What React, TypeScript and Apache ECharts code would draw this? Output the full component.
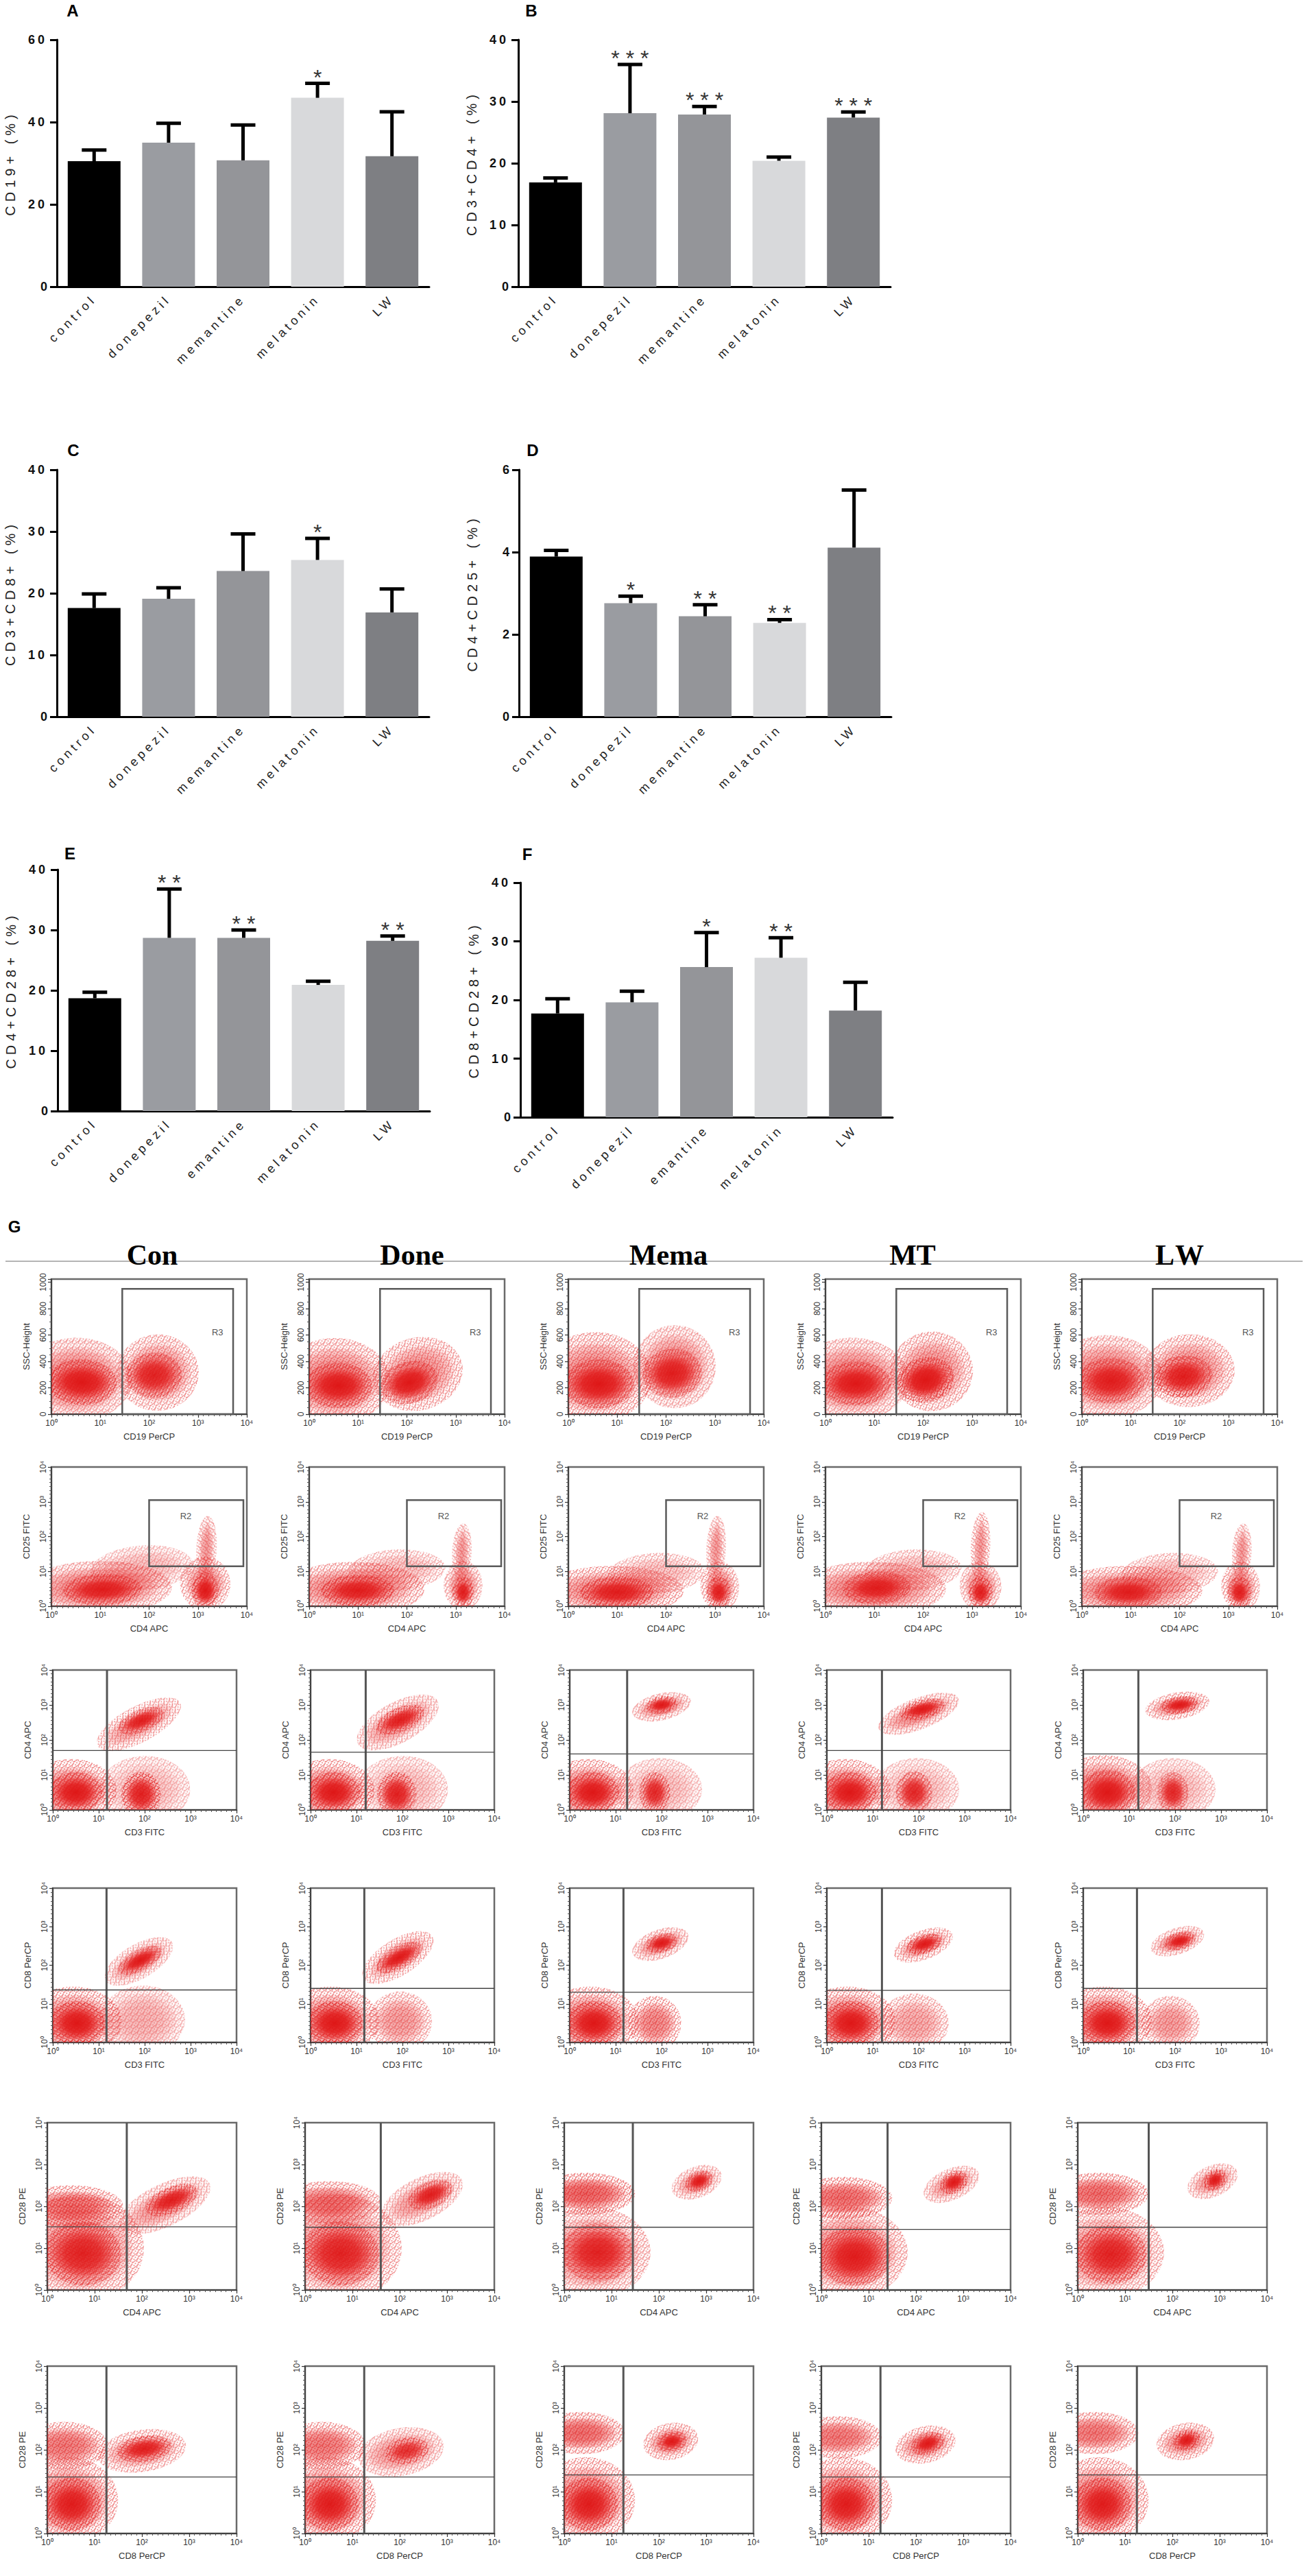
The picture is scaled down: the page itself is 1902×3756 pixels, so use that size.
import React, { useEffect, useRef } from "react";
import * as echarts from "echarts";

// ---------------- Bar panels (A-F) ----------------
const groups = ["control", "donepezil", "memantine", "melatonin", "LW"];
const groupsEF = ["control", "donepezil", "emantine", "melatonin", "LW"];

const cd19Mean = [30.5, 35.0, 30.7, 45.9, 31.7];
const cd19Sem = [2.7, 4.7, 8.6, 3.5, 10.8];
const cd19Stars = ["", "", "", "*", ""];

const cd3cd4Mean = [16.9, 28.1, 27.9, 20.4, 27.4];
const cd3cd4Sem = [0.7, 7.9, 1.3, 0.6, 0.9];
const cd3cd4Stars = ["", "* * *", "* * *", "", "* * *"];

const cd3cd8Mean = [17.6, 19.1, 23.6, 25.4, 16.9];
const cd3cd8Sem = [2.3, 1.8, 6.0, 3.5, 3.8];
const cd3cd8Stars = ["", "", "", "*", ""];

const cd4cd25Mean = [3.89, 2.76, 2.44, 2.28, 4.11];
const cd4cd25Sem = [0.15, 0.17, 0.28, 0.08, 1.4];
const cd4cd25Stars = ["", "*", "* *", "* *", ""];

const cd4cd28Mean = [18.7, 28.7, 28.7, 20.9, 28.2];
const cd4cd28Sem = [1.0, 8.1, 1.3, 0.6, 0.8];
const cd4cd28Stars = ["", "* *", "* *", "", "* *"];

const cd8cd28Mean = [17.7, 19.6, 25.6, 27.2, 18.2];
const cd8cd28Sem = [2.5, 1.9, 5.9, 3.4, 4.8];
const cd8cd28Stars = ["", "", "*", "* *", ""];

const barColors = ["#000000", "#9a9ca1", "#949599", "#d8d9db", "#7e7f83"];

// ---------------- Flow cytometry panels (G) ----------------
const groupHeaders = ["Con", "Done", "Mema", "MT", "LW"];
const xAxisNames = ["CD19 PerCP", "CD4 APC", "CD3 FITC", "CD3 FITC", "CD4 APC", "CD8 PerCP"];
const yAxisNames = ["SSC-Height", "CD25 FITC", "CD4 APC", "CD8 PerCP", "CD28 PE", "CD28 PE"];
const logTicks = ["10⁰", "10¹", "10²", "10³", "10⁴"];
const sscTicks = ["0", "200", "400", "600", "800", "1000"];

// cell clouds: [x1, y1, x2, y2, half-thickness (y units), density]; x in log10 decades
const row1Clusters = [
  [[-0.4, 270, 1.45, 260, 230, 0.45], [0.05, 250, 1.2, 235, 120, 0.9], [1.5, 300, 2.85, 330, 210, 0.4], [1.65, 290, 2.55, 300, 120, 0.8]],
  [[-0.4, 250, 1.45, 250, 240, 0.45], [0.05, 220, 1.15, 215, 120, 0.9], [1.5, 230, 2.95, 380, 200, 0.4], [1.6, 190, 2.5, 290, 110, 0.9]],
  [[-0.4, 280, 1.5, 280, 250, 0.45], [0.05, 230, 1.2, 230, 130, 0.9], [1.5, 340, 2.85, 380, 230, 0.4], [1.65, 290, 2.6, 330, 130, 0.85]],
  [[-0.4, 270, 1.5, 260, 230, 0.45], [0.05, 230, 1.2, 235, 115, 0.9], [1.5, 290, 2.85, 360, 220, 0.4], [1.6, 220, 2.5, 300, 120, 0.95]],
  [[-0.4, 290, 1.45, 280, 230, 0.45], [0.05, 250, 1.15, 255, 120, 0.85], [1.45, 320, 2.95, 340, 200, 0.4], [1.6, 270, 2.55, 300, 110, 0.85]],
];
const row2Clusters = [
  [[-0.3, 0.5, 2.2, 0.55, 0.55, 0.45], [0.4, 0.45, 1.7, 0.5, 0.3, 0.85], [1.0, 1.0, 2.7, 1.2, 0.45, 0.2], [2.75, 0.6, 3.55, 0.7, 0.55, 0.4], [2.95, 0.45, 3.35, 0.45, 0.35, 0.9], [3.15, 0.9, 3.2, 2.4, 0.18, 0.35]],
  [[-0.3, 0.5, 2.1, 0.5, 0.55, 0.45], [0.4, 0.45, 1.6, 0.45, 0.3, 0.85], [1.0, 1.0, 2.6, 1.1, 0.4, 0.2], [2.85, 0.6, 3.45, 0.6, 0.5, 0.4], [3.0, 0.4, 3.3, 0.4, 0.3, 0.85], [3.1, 0.9, 3.15, 2.2, 0.17, 0.35]],
  [[-0.3, 0.45, 2.1, 0.45, 0.5, 0.45], [0.4, 0.4, 1.6, 0.4, 0.3, 0.85], [1.0, 0.9, 2.6, 1.0, 0.4, 0.2], [2.8, 0.55, 3.4, 0.6, 0.5, 0.4], [2.9, 0.4, 3.25, 0.4, 0.3, 0.85], [3.0, 0.9, 3.05, 2.4, 0.17, 0.35]],
  [[-0.3, 0.5, 2.2, 0.5, 0.55, 0.45], [0.5, 0.5, 1.6, 0.55, 0.32, 0.85], [1.0, 1.0, 2.6, 1.1, 0.4, 0.2], [2.85, 0.55, 3.5, 0.6, 0.5, 0.4], [3.0, 0.4, 3.35, 0.4, 0.3, 0.85], [3.15, 0.9, 3.2, 2.5, 0.17, 0.35]],
  [[-0.3, 0.45, 2.2, 0.45, 0.5, 0.45], [0.4, 0.4, 1.5, 0.4, 0.3, 0.85], [1.0, 0.9, 2.6, 1.0, 0.4, 0.2], [2.95, 0.55, 3.55, 0.6, 0.5, 0.4], [3.05, 0.4, 3.4, 0.4, 0.3, 0.85], [3.25, 0.9, 3.3, 2.2, 0.17, 0.35]],
];
const row3Clusters = [
  [[-0.4, 0.55, 1.2, 0.55, 0.65, 0.45], [0.05, 0.5, 0.95, 0.5, 0.4, 0.9], [1.2, 0.55, 2.8, 0.6, 0.7, 0.2], [1.6, 0.45, 2.25, 0.45, 0.45, 0.85], [1.15, 1.95, 2.6, 2.95, 0.35, 0.35], [1.55, 2.35, 2.3, 2.75, 0.2, 0.85]],
  [[-0.4, 0.55, 1.2, 0.55, 0.65, 0.45], [0.05, 0.5, 0.95, 0.5, 0.4, 0.9], [1.2, 0.55, 2.8, 0.6, 0.7, 0.2], [1.55, 0.45, 2.2, 0.45, 0.45, 0.85], [1.2, 2.0, 2.6, 3.0, 0.4, 0.35], [1.55, 2.35, 2.35, 2.8, 0.22, 0.85]],
  [[-0.4, 0.55, 1.2, 0.55, 0.65, 0.45], [0.05, 0.5, 0.95, 0.5, 0.4, 0.9], [1.2, 0.55, 2.7, 0.6, 0.65, 0.2], [1.6, 0.5, 2.1, 0.5, 0.4, 0.8], [1.5, 2.8, 2.5, 3.1, 0.25, 0.4], [1.75, 2.95, 2.25, 3.05, 0.15, 0.9]],
  [[-0.4, 0.55, 1.2, 0.55, 0.65, 0.45], [0.05, 0.5, 0.95, 0.5, 0.4, 0.9], [1.2, 0.55, 2.7, 0.6, 0.65, 0.2], [1.6, 0.5, 2.2, 0.5, 0.42, 0.8], [1.3, 2.4, 2.7, 3.1, 0.3, 0.4], [1.7, 2.75, 2.45, 3.0, 0.17, 0.9]],
  [[-0.4, 0.6, 1.3, 0.6, 0.7, 0.45], [0.05, 0.5, 1.0, 0.5, 0.45, 0.9], [1.2, 0.55, 2.7, 0.6, 0.65, 0.2], [1.7, 0.5, 2.2, 0.5, 0.4, 0.8], [1.5, 2.85, 2.6, 3.1, 0.25, 0.4], [1.8, 2.95, 2.4, 3.05, 0.15, 0.9]],
];
const row4Clusters = [
  [[-0.4, 0.55, 1.3, 0.55, 0.65, 0.45], [0.05, 0.5, 1.0, 0.5, 0.4, 0.9], [1.2, 0.55, 2.7, 0.6, 0.65, 0.25], [1.3, 1.7, 2.45, 2.5, 0.3, 0.35], [1.55, 1.9, 2.25, 2.35, 0.17, 0.9]],
  [[-0.4, 0.55, 1.3, 0.55, 0.65, 0.45], [0.05, 0.5, 1.0, 0.5, 0.4, 0.9], [1.4, 0.55, 2.5, 0.55, 0.55, 0.35], [1.3, 1.75, 2.5, 2.65, 0.32, 0.35], [1.55, 1.95, 2.3, 2.45, 0.18, 0.9]],
  [[-0.4, 0.55, 1.3, 0.55, 0.65, 0.45], [0.05, 0.5, 1.0, 0.5, 0.4, 0.9], [1.4, 0.5, 2.3, 0.5, 0.5, 0.45], [1.5, 2.35, 2.45, 2.75, 0.25, 0.4], [1.75, 2.5, 2.25, 2.65, 0.15, 0.9]],
  [[-0.4, 0.55, 1.3, 0.55, 0.65, 0.45], [0.05, 0.5, 1.0, 0.5, 0.4, 0.9], [1.3, 0.5, 2.5, 0.5, 0.55, 0.3], [1.6, 2.3, 2.6, 2.75, 0.25, 0.4], [1.85, 2.45, 2.4, 2.65, 0.15, 0.9]],
  [[-0.4, 0.55, 1.3, 0.55, 0.65, 0.45], [0.05, 0.5, 1.0, 0.5, 0.4, 0.9], [1.4, 0.5, 2.4, 0.5, 0.5, 0.35], [1.6, 2.45, 2.5, 2.8, 0.22, 0.4], [1.85, 2.55, 2.35, 2.7, 0.14, 0.9]],
];
const row5Clusters = [
  [[-0.4, 1.0, 1.8, 1.0, 0.95, 0.4], [0.1, 0.9, 1.4, 0.85, 0.55, 0.8], [-0.4, 2.0, 1.4, 2.0, 0.35, 0.5], [1.7, 1.6, 3.25, 2.45, 0.35, 0.35], [2.2, 1.95, 3.05, 2.35, 0.2, 0.85]],
  [[-0.4, 1.0, 1.8, 1.0, 0.95, 0.4], [0.1, 0.9, 1.4, 0.85, 0.55, 0.8], [-0.4, 2.1, 1.4, 2.1, 0.35, 0.5], [1.8, 1.8, 3.15, 2.55, 0.35, 0.35], [2.3, 2.1, 3.0, 2.45, 0.2, 0.85]],
  [[-0.4, 0.9, 1.6, 0.9, 0.8, 0.4], [0.1, 0.9, 1.3, 0.9, 0.5, 0.8], [-0.4, 2.3, 1.3, 2.3, 0.35, 0.6], [2.4, 2.4, 3.2, 2.75, 0.25, 0.35], [2.65, 2.5, 3.05, 2.7, 0.15, 0.9]],
  [[-0.4, 0.9, 1.6, 0.9, 0.8, 0.45], [0.1, 0.8, 1.3, 0.8, 0.5, 0.85], [-0.4, 2.2, 1.3, 2.2, 0.35, 0.55], [2.3, 2.3, 3.2, 2.75, 0.25, 0.35], [2.6, 2.45, 3.0, 2.7, 0.16, 0.9]],
  [[-0.4, 0.9, 1.6, 0.9, 0.8, 0.4], [0.1, 0.85, 1.3, 0.85, 0.5, 0.8], [-0.4, 2.3, 1.3, 2.3, 0.35, 0.55], [2.45, 2.4, 3.25, 2.8, 0.25, 0.35], [2.75, 2.5, 3.05, 2.75, 0.15, 0.9]],
];
const row6Clusters = [
  [[-0.4, 0.8, 1.3, 0.8, 0.75, 0.45], [0.05, 0.7, 1.0, 0.7, 0.45, 0.85], [-0.4, 2.1, 1.1, 2.1, 0.4, 0.5], [1.25, 1.85, 2.75, 2.1, 0.35, 0.35], [1.6, 1.95, 2.5, 2.1, 0.2, 0.85]],
  [[-0.4, 0.8, 1.3, 0.8, 0.75, 0.45], [0.05, 0.7, 1.0, 0.7, 0.45, 0.85], [-0.4, 2.1, 1.1, 2.1, 0.4, 0.5], [1.3, 1.8, 2.75, 2.1, 0.4, 0.35], [1.8, 1.9, 2.5, 2.05, 0.2, 0.7]],
  [[-0.4, 0.8, 1.3, 0.8, 0.75, 0.45], [0.05, 0.7, 1.0, 0.7, 0.45, 0.85], [-0.4, 2.4, 1.1, 2.4, 0.35, 0.55], [1.8, 2.1, 2.7, 2.3, 0.3, 0.4], [2.05, 2.15, 2.5, 2.25, 0.15, 0.9]],
  [[-0.4, 0.8, 1.3, 0.8, 0.75, 0.45], [0.05, 0.7, 1.0, 0.7, 0.45, 0.85], [-0.4, 2.3, 1.1, 2.3, 0.35, 0.5], [1.7, 2.0, 2.7, 2.25, 0.3, 0.4], [2.0, 2.05, 2.5, 2.25, 0.16, 0.9]],
  [[-0.4, 0.8, 1.3, 0.8, 0.75, 0.45], [0.05, 0.7, 1.0, 0.7, 0.45, 0.85], [-0.4, 2.4, 1.1, 2.4, 0.35, 0.5], [1.8, 2.1, 2.75, 2.3, 0.3, 0.4], [2.1, 2.15, 2.5, 2.3, 0.15, 0.9]],
];

// gates: [xMin, yMin, xMax, yMax]
const r3Gate = [1.45, 0, 3.72, 950];
const r3LabelPos = [3.4, 620];
const r2Gate = [2.0, 1.15, 3.93, 3.05];
const r2LabelPos = [2.75, 2.6];
// quadrant cut points: [x, y] per column
const row3Quad = [[1.18, 1.7], [1.2, 1.65], [1.25, 1.6], [1.2, 1.7], [1.2, 1.6]];
const row4Quad = [[1.17, 1.36], [1.17, 1.4], [1.17, 1.3], [1.2, 1.35], [1.17, 1.4]];
const row5Quad = [[1.68, 1.51], [1.6, 1.5], [1.45, 1.5], [1.4, 1.45], [1.5, 1.5]];
const row6Quad = [[1.25, 1.35], [1.25, 1.35], [1.25, 1.4], [1.25, 1.35], [1.25, 1.4]];

// ---------------- layout / style ----------------
const SANS = "'Liberation Sans', Arial, Helvetica, sans-serif";
const barLayout = [
  { letter: "A", grid: { left: 83, top: 58, width: 543, height: 360 }, lp: [106, 15] },
  { letter: "B", grid: { left: 756, top: 58, width: 543, height: 360 }, lp: [775, 15] },
  { letter: "C", grid: { left: 83, top: 685, width: 543, height: 360 }, lp: [107, 656] },
  { letter: "D", grid: { left: 757, top: 685, width: 543, height: 360 }, lp: [777, 656] },
  { letter: "E", grid: { left: 84, top: 1268, width: 543, height: 352 }, lp: [102, 1244] },
  { letter: "F", grid: { left: 759, top: 1287, width: 543, height: 342 }, lp: [769, 1245] },
];
const colLefts = [75, 451, 829, 1204, 1578];
const colCenters = [222, 601, 975, 1331, 1723];
const rowTops = [1865, 2139, 2435, 2753, 3095, 3450];
const rowHeights = [197, 203, 204, 225, 244, 244];
const rowShift = [0, 0, 2, 2, -6, -6];
const rowWidths = [285, 285, 268, 268, 276, 276];
// speckle texture tile (dot offsets inside a 9px tile)
const SPECKLE_TILE = 9;
const speckleDots = [[0.5, 0.5], [4.5, 1.5], [7.5, 3.5], [2.5, 4.5], [5.5, 6.5], [0.5, 7.5], [8, 8], [3, 2], [6.5, 0], [1.5, 6]];

function makeSpeckle(): string {
  const cv = document.createElement("canvas");
  cv.width = SPECKLE_TILE;
  cv.height = SPECKLE_TILE;
  const ctx = cv.getContext("2d");
  if (ctx) {
    ctx.fillStyle = "rgba(226,32,32,0.95)";
    speckleDots.forEach(([x, y]) => ctx.fillRect(x, y, 1.6, 1.6));
  }
  return cv.toDataURL();
}

function cloudFill(a: number) {
  return new echarts.graphic.RadialGradient(0.5, 0.5, 0.5, [
    { offset: 0, color: `rgba(222,22,22,${Math.min(1, a * 1.1)})` },
    { offset: 0.55, color: `rgba(226,30,30,${Math.min(1, a * 0.95)})` },
    { offset: 0.85, color: `rgba(232,50,50,${a * 0.5})` },
    { offset: 1, color: "rgba(238,80,80,0)" },
  ]);
}

function buildOption() {
  const speckle = makeSpeckle();
  const grid: any[] = [];
  const xAxis: any[] = [];
  const yAxis: any[] = [];
  const series: any[] = [];
  const graphic: any[] = [];

  const barDefs = [
    { cats: groups, mean: cd19Mean, sem: cd19Sem, stars: cd19Stars, max: 60, interval: 20, name: "CD19+ (%)" },
    { cats: groups, mean: cd3cd4Mean, sem: cd3cd4Sem, stars: cd3cd4Stars, max: 40, interval: 10, name: "CD3+CD4+ (%)" },
    { cats: groups, mean: cd3cd8Mean, sem: cd3cd8Sem, stars: cd3cd8Stars, max: 40, interval: 10, name: "CD3+CD8+ (%)" },
    { cats: groups, mean: cd4cd25Mean, sem: cd4cd25Sem, stars: cd4cd25Stars, max: 6, interval: 2, name: "CD4+CD25+ (%)" },
    { cats: groupsEF, mean: cd4cd28Mean, sem: cd4cd28Sem, stars: cd4cd28Stars, max: 40, interval: 10, name: "CD4+CD28+ (%)" },
    { cats: groupsEF, mean: cd8cd28Mean, sem: cd8cd28Sem, stars: cd8cd28Stars, max: 40, interval: 10, name: "CD8+CD28+ (%)" },
  ];

  barDefs.forEach((d, k) => {
    const L = barLayout[k];
    const gi = grid.length;
    grid.push({ ...L.grid, containLabel: false });
    xAxis.push({
      gridIndex: gi, type: "category", data: d.cats,
      axisLine: { show: true, lineStyle: { color: "#000", width: 3 } },
      axisTick: { show: false },
      axisLabel: { interval: 0, rotate: 45, margin: 15, fontFamily: SANS, fontSize: 18, color: "#222" },
    });
    yAxis.push({
      gridIndex: gi, type: "value", min: 0, max: d.max, interval: d.interval,
      name: d.name, nameLocation: "middle", nameGap: 58,
      nameTextStyle: { fontFamily: SANS, fontSize: 20, color: "#222" },
      axisLine: { show: true, lineStyle: { color: "#000", width: 3 } },
      axisTick: { show: true, length: 10, lineStyle: { color: "#000", width: 3 } },
      axisLabel: { margin: 14, fontFamily: SANS, fontWeight: "bold", fontSize: 18, color: "#111" },
      splitLine: { show: false },
    });
    series.push({
      type: "bar", xAxisIndex: gi, yAxisIndex: gi, barWidth: 77, z: 2,
      data: d.mean.map((v, i) => ({ value: v, itemStyle: { color: barColors[i] } })),
    });
    series.push({
      type: "custom", xAxisIndex: gi, yAxisIndex: gi, z: 3,
      data: d.mean.map((v, i) => [i, v, d.sem[i]]),
      renderItem: (_p: any, api: any) => {
        const i = api.value(0), v = api.value(1), e = api.value(2);
        const b = api.coord([i, v]);
        const t = api.coord([i, v + e]);
        return {
          type: "group",
          children: [
            { type: "line", shape: { x1: b[0], y1: b[1], x2: t[0], y2: t[1] }, style: { stroke: "#000", lineWidth: 5 } },
            { type: "line", shape: { x1: t[0] - 18, y1: t[1], x2: t[0] + 18, y2: t[1] }, style: { stroke: "#000", lineWidth: 5 } },
          ],
        };
      },
    });
    const starData = d.stars.map((s, i) => (s ? [i, d.mean[i] + d.sem[i], i] : null)).filter((x) => x);
    series.push({
      type: "custom", xAxisIndex: gi, yAxisIndex: gi, z: 4,
      data: starData,
      renderItem: (_p: any, api: any) => {
        const p = api.coord([api.value(0), api.value(1)]);
        const s = d.stars[api.value(2)];
        return {
          type: "text", x: p[0], y: p[1] - 9,
          style: { text: s, fontFamily: SANS, fontSize: 32, fill: "#333", align: "center", verticalAlign: "middle", textAlign: "center", textVerticalAlign: "middle" },
        };
      },
    });
    graphic.push({
      type: "text", x: L.lp[0], y: L.lp[1],
      style: { text: L.letter, fontFamily: SANS, fontWeight: "bold", fontSize: 24, fill: "#000", align: "center", verticalAlign: "middle", textAlign: "center", textVerticalAlign: "middle" },
    });
  });

  // ---- G section ----
  graphic.push({
    type: "text", x: 21, y: 1788,
    style: { text: "G", fontFamily: SANS, fontWeight: "bold", fontSize: 24, fill: "#000", align: "center", verticalAlign: "middle", textAlign: "center", textVerticalAlign: "middle" },
  });
  graphic.push({ type: "line", z: 1, shape: { x1: 8, y1: 1839, x2: 1900, y2: 1839 }, style: { stroke: "#b4b4b4", lineWidth: 2 } });
  groupHeaders.forEach((h, c) => {
    graphic.push({
      type: "text", z: 5, x: colCenters[c], y: 1830,
      style: { text: h, fontFamily: "'Liberation Serif', 'Times New Roman', serif", fontWeight: "bold", fontSize: 42, fill: "#000", align: "center", verticalAlign: "middle", textAlign: "center", textVerticalAlign: "middle" },
    });
  });

  const rowClusters = [row1Clusters, row2Clusters, row3Clusters, row4Clusters, row5Clusters, row6Clusters];
  const rowQuads: any[] = [null, null, row3Quad, row4Quad, row5Quad, row6Quad];

  for (let r = 0; r < 6; r++) {
    for (let c = 0; c < 5; c++) {
      const gi = grid.length;
      grid.push({
        left: colLefts[c] + rowShift[r], top: rowTops[r], width: rowWidths[r], height: rowHeights[r],
        show: true, borderColor: "#6a6a6a", borderWidth: 2.5, containLabel: false,
      });
      xAxis.push({
        gridIndex: gi, type: "value", min: 0, max: 4, interval: 1,
        name: xAxisNames[r], nameLocation: "middle", nameGap: 26,
        nameTextStyle: { fontFamily: SANS, fontSize: 13, color: "#333" },
        axisLine: { show: true, onZero: false, lineStyle: { color: "#333", width: 1.5 } },
        axisTick: { show: true, length: 5, lineStyle: { color: "#333", width: 1.2 } },
        minorTick: { show: true, splitNumber: 9, length: 3, lineStyle: { color: "#555", width: 1 } },
        splitLine: { show: false },
        axisLabel: { formatter: (v: number) => logTicks[Math.round(v)] || "", fontFamily: SANS, fontSize: 12, color: "#333", margin: 7 },
      });
      const isSsc = r === 0;
      yAxis.push({
        gridIndex: gi, type: "value", min: 0, max: isSsc ? 1024 : 4, interval: isSsc ? 200 : 1,
        name: yAxisNames[r], nameLocation: "middle", nameGap: 30,
        nameTextStyle: { fontFamily: SANS, fontSize: 13, color: "#333" },
        axisLine: { show: true, onZero: false, lineStyle: { color: "#333", width: 1.5 } },
        axisTick: { show: true, length: 5, lineStyle: { color: "#333", width: 1.2 } },
        minorTick: { show: true, splitNumber: isSsc ? 4 : 9, length: 3, lineStyle: { color: "#555", width: 1 } },
        splitLine: { show: false },
        axisLabel: {
          rotate: 90, margin: 6, fontFamily: SANS, fontSize: 12, color: "#333",
          formatter: (v: number) => (isSsc ? (v % 200 === 0 ? sscTicks[v / 200] : "") : logTicks[Math.round(v)] || ""),
        },
      });
      // cell clouds: speckled halo + dense gradient core
      series.push({
        type: "custom", xAxisIndex: gi, yAxisIndex: gi, clip: true, z: 1,
        data: rowClusters[r][c],
        renderItem: (_p: any, api: any) => {
          const p1 = api.coord([api.value(0), api.value(1)]);
          const p2 = api.coord([api.value(2), api.value(3)]);
          const w = Math.abs(api.size([0, api.value(4)])[1]);
          const a = api.value(5);
          const cx = (p1[0] + p2[0]) / 2;
          const cy = (p1[1] + p2[1]) / 2;
          const len = Math.max(Math.hypot(p2[0] - p1[0], p2[1] - p1[1]) / 2, 2);
          const ang = Math.atan2(p2[1] - p1[1], p2[0] - p1[0]);
          return {
            type: "group", x: cx, y: cy, rotation: -ang,
            children: [
              {
                type: "ellipse", shape: { cx: 0, cy: 0, rx: len * 1.18 + 3, ry: Math.max(w, 2) * 1.3 + 3 },
                style: { fill: { image: speckle, repeat: "repeat" }, opacity: Math.min(1, 0.45 + a * 0.6) },
              },
              {
                type: "ellipse", shape: { cx: 0, cy: 0, rx: len * 1.05, ry: Math.max(w, 2) * 1.1 },
                style: { fill: cloudFill(a) },
              },
            ],
          };
        },
      });
      // gates
      if (r === 0 || r === 1) {
        const g = r === 0 ? r3Gate : r2Gate;
        const lp = r === 0 ? r3LabelPos : r2LabelPos;
        const label = r === 0 ? "R3" : "R2";
        series.push({
          type: "custom", xAxisIndex: gi, yAxisIndex: gi, z: 3,
          data: [[g[0], g[1], g[2], g[3], lp[0], lp[1]]],
          renderItem: (_p: any, api: any) => {
            const tl = api.coord([api.value(0), api.value(3)]);
            const br = api.coord([api.value(2), api.value(1)]);
            const lpp = api.coord([api.value(4), api.value(5)]);
            return {
              type: "group",
              children: [
                { type: "rect", shape: { x: tl[0], y: tl[1], width: br[0] - tl[0], height: br[1] - tl[1] }, style: { fill: "none", stroke: "#5a5a5a", lineWidth: 2.5 } },
                { type: "text", x: lpp[0], y: lpp[1], style: { text: label, fontFamily: SANS, fontSize: 13, fill: "#555", align: "center", verticalAlign: "middle", textAlign: "center", textVerticalAlign: "middle" } },
              ],
            };
          },
        });
      } else {
        const q = rowQuads[r][c];
        series.push({
          type: "custom", xAxisIndex: gi, yAxisIndex: gi, z: 3,
          data: [q],
          renderItem: (p: any, api: any) => {
            const cs = p.coordSys;
            const pt = api.coord([api.value(0), api.value(1)]);
            return {
              type: "group",
              children: [
                { type: "line", shape: { x1: pt[0], y1: cs.y, x2: pt[0], y2: cs.y + cs.height }, style: { stroke: "#555", lineWidth: 3 } },
                { type: "line", shape: { x1: cs.x, y1: pt[1], x2: cs.x + cs.width, y2: pt[1] }, style: { stroke: "#444", lineWidth: 1.3 } },
              ],
            };
          },
        });
      }
    }
  }

  return { animation: false, backgroundColor: "#ffffff", grid, xAxis, yAxis, series, graphic };
}

const spacingMap: Record<string, number> = {};
[...groups, ...groupsEF].forEach((s) => (spacingMap[s] = 5));
["CD19+ (%)", "CD3+CD4+ (%)", "CD3+CD8+ (%)", "CD4+CD25+ (%)", "CD4+CD28+ (%)", "CD8+CD28+ (%)"].forEach((s) => (spacingMap[s] = 6));
["10", "20", "30", "40", "60"].forEach((s) => (spacingMap[s] = 4));

function applySpacing(el: HTMLElement | null) {
  if (!el) return;
  el.querySelectorAll("text").forEach((t) => {
    const k = (t.textContent || "").trim();
    if (spacingMap[k] !== undefined) t.setAttribute("letter-spacing", String(spacingMap[k]));
  });
}

export default function App() {
  const ref = useRef<HTMLDivElement>(null);
  useEffect(() => {
    if (!ref.current) return;
    const chart = echarts.init(ref.current, undefined, { renderer: "svg" });
    chart.setOption(buildOption() as any);
    const apply = () => applySpacing(ref.current);
    apply();
    chart.on("finished", apply);
    return () => chart.dispose();
  }, []);
  return (
    <div
      ref={ref}
      style={{ position: "absolute", left: 0, top: 0, width: 1902, height: 3756, background: "#fff" }}
    />
  );
}
